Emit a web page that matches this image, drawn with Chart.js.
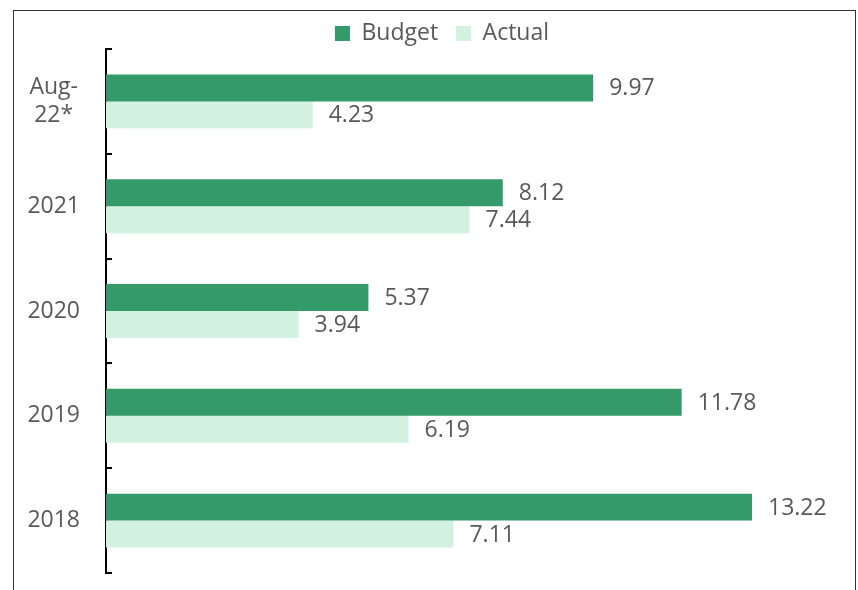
<!DOCTYPE html>
<html lang="en">
<head>
  <meta charset="UTF-8">
  <title>Budget vs Actual</title>
  <script src="https://cdn.jsdelivr.net/npm/chart.js"></script>
  <style>
    html, body { margin: 0; padding: 0; background: #fff; }
    #wrap { position: relative; width: 858px; height: 590px; overflow: hidden; }
    #frame { position: absolute; left: 13px; top: 10px; width: 843px; height: 620px;
             border: 1px solid #333; box-sizing: border-box; }
    canvas { position: absolute; left: 0; top: 0; }
  </style>
</head>
<body>
<div id="wrap">
  <div id="frame"></div>
  <canvas id="chart" width="858" height="590"></canvas>
</div>

<script>
  const categories = ['Aug-22*', '2021', '2020', '2019', '2018'];
  const budget = [9.97, 8.12, 5.37, 11.78, 13.22];
  const actual = [4.23, 7.44, 3.94, 6.19, 7.11];

  const textColor = '#595959';
  const fontFamily = '"Open Sans", sans-serif';

  // value labels at the end of each bar
  const barLabels = {
    id: 'barLabels',
    afterDatasetsDraw(chart) {
      const ctx = chart.ctx;
      ctx.save();
      ctx.font = '23px ' + fontFamily;
      ctx.fillStyle = textColor;
      ctx.textAlign = 'left';
      ctx.textBaseline = 'middle';
      chart.data.datasets.forEach((ds, i) => {
        chart.getDatasetMeta(i).data.forEach((bar, j) => {
          ctx.fillText(ds.data[j].toFixed(2), bar.x + 16, bar.y + 1);
        });
      });
      ctx.restore();
    }
  };

  // legend sits tighter above the plot and a bit right of the canvas centre
  const tightLegend = {
    id: 'tightLegend',
    beforeLayout(chart) {
      const lg = chart.legend;
      if (lg && !lg._tight) {
        const fit = lg.fit.bind(lg);
        lg.fit = function () { fit(); this.height -= 6; };
        lg._tight = true;
      }
    },
    afterLayout(chart) {
      if (chart.legend) chart.legend.left += 45;
    }
  };

  new Chart(document.getElementById('chart'), {
    type: 'bar',
    data: {
      labels: categories,
      datasets: [
        { label: 'Budget', data: budget, backgroundColor: '#359A69' },
        { label: 'Actual', data: actual, backgroundColor: '#D2F1E1' }
      ]
    },
    options: {
      indexAxis: 'y',
      responsive: false,
      animation: false,
      layout: { padding: { top: 4, right: 19, bottom: 17, left: 0 } },
      datasets: { bar: { categoryPercentage: 0.514, barPercentage: 1 } },
      plugins: {
        tooltip: { enabled: false },
        legend: {
          position: 'top',
          labels: {
            boxWidth: 15, boxHeight: 15, padding: 18,
            color: textColor,
            font: { family: fontFamily, size: 23 }
          }
        }
      },
      scales: {
        x: { display: false, min: 0, max: 15 },
        y: {
          afterFit(scale) {
            scale.width = 106;
            scale.paddingTop = 0;
            scale.paddingBottom = 0;
          },
          border: { color: '#000', width: 2 },
          grid: { drawOnChartArea: false, color: '#000', lineWidth: 2, tickLength: -6 },
          ticks: {
            padding: 32,
            crossAlign: 'center',
            color: textColor,
            font: { family: fontFamily, size: 23 },
            callback(value) {
              const lab = this.getLabelForValue(value);
              return lab === 'Aug-22*' ? ['Aug-', '22*'] : lab;
            }
          }
        }
      }
    },
    plugins: [barLabels, tightLegend]
  });
</script>
</body>
</html>
